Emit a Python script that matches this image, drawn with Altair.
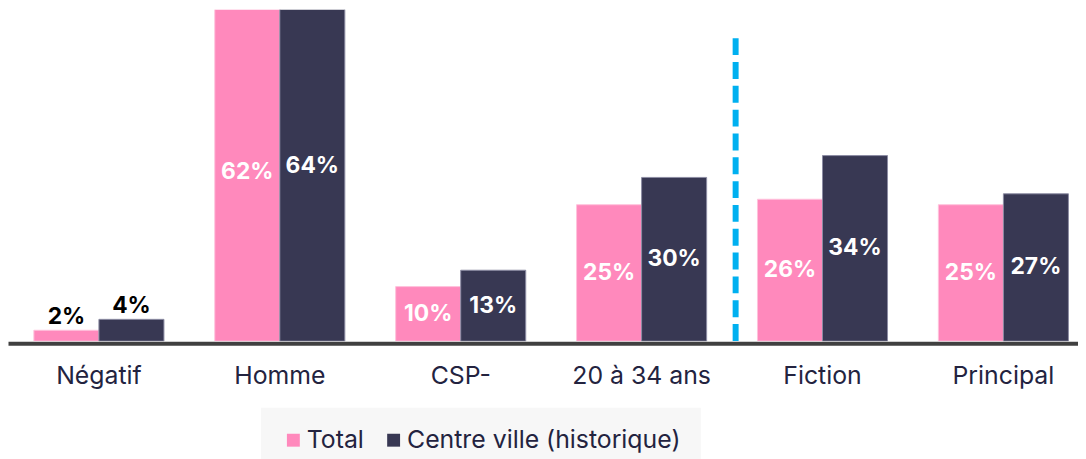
import altair as alt
import pandas as pd

categories = ["Négatif", "Homme", "CSP-", "20 à 34 ans", "Fiction", "Principal"]
series_names = ["Total", "Centre ville (historique)"]
total_values = [2, 62, 10, 25, 26, 25]
centre_values = [4, 64, 13, 30, 34, 27]
divider_before = "Fiction"
divider_top = 55.5

PINK = "#FF89BC"
NAVY = "#383853"
rows = []
for c, t, v in zip(categories, total_values, centre_values):
    rows.append({"cat": c, "serie": series_names[0], "val": t})
    rows.append({"cat": c, "serie": series_names[1], "val": v})
df = pd.DataFrame(rows)
df["label"] = df["val"].astype(str) + "%"
df["mid"] = df["val"] / 2
df["inside"] = df["val"] >= 5

FONT = "Inter"

x_enc = alt.X(
    "cat:N",
    sort=categories,
    title=None,
    scale=alt.Scale(paddingInner=0.281, paddingOuter=0.098, align=0.73),
    axis=alt.Axis(
        labelAngle=0,
        labelFont=FONT,
        labelFontSize=25,
        labelColor="#23233f",
        labelPadding=21,
        ticks=False,
        domainColor="#404040",
        domainWidth=4,
        offset=2,
        grid=False,
    ),
)
xoff = alt.XOffset("serie:N", sort=series_names, scale=alt.Scale(paddingInner=0))
y_scale = alt.Scale(domain=[0, 60.73], nice=False)

base = alt.Chart(df)

bars = base.mark_bar(clip=True, strokeWidth=1).encode(
    x=x_enc,
    xOffset=xoff,
    y=alt.Y("val:Q", scale=y_scale, axis=None),
    color=alt.Color(
        "serie:N",
        sort=series_names,
        scale=alt.Scale(domain=series_names, range=[PINK, NAVY]),
        legend=alt.Legend(
            title=None,
            orient="none",
            legendX=255,
            legendY=401,
            direction="horizontal",
            fillColor="#f7f7f7",
            padding=20,
            symbolType="square",
            symbolSize=169,
            symbolStrokeWidth=0,
            labelFont=FONT,
            labelFontSize=25,
            labelColor="#23233f",
            labelOffset=1,
            labelLimit=0,
            columnPadding=17,
        ),
    ),
    stroke=alt.Stroke(
        "serie:N",
        sort=series_names,
        scale=alt.Scale(domain=series_names, range=["#FFC2DC", "#8C8CA3"]),
        legend=None,
    ),
)

inside_text = base.transform_filter("datum.inside").mark_text(
    font=FONT, fontSize=23, fontWeight="bold", color="white", baseline="middle"
).encode(
    x=alt.X("cat:N", sort=categories),
    xOffset=xoff,
    y=alt.Y("mid:Q", scale=y_scale),
    text="label:N",
)

outside_text = base.transform_filter("!datum.inside").mark_text(
    font=FONT, fontSize=23, fontWeight="bold", color="black", baseline="alphabetic", dy=-6
).encode(
    x=alt.X("cat:N", sort=categories),
    xOffset=xoff,
    y=alt.Y("val:Q", scale=y_scale),
    text="label:N",
)

divider = alt.Chart(pd.DataFrame({"cat": [divider_before]})).mark_rule(
    color="#00B0F0", strokeWidth=6, strokeDash=[17, 7], xOffset=-22
).encode(
    x=alt.X("cat:N", sort=categories, bandPosition=0),
    y=alt.datum(divider_top),
    y2=alt.datum(0),
)

chart = alt.layer(bars, inside_text, outside_text, divider).properties(
    width=1078,
    height=334,
    autosize=alt.AutoSizeParams(type="none"),
    padding={"left": 0, "top": 0, "right": 0, "bottom": 117},
).configure_view(stroke=None)

chart.save("out.html", embed_options={"renderer": "svg", "actions": False})
